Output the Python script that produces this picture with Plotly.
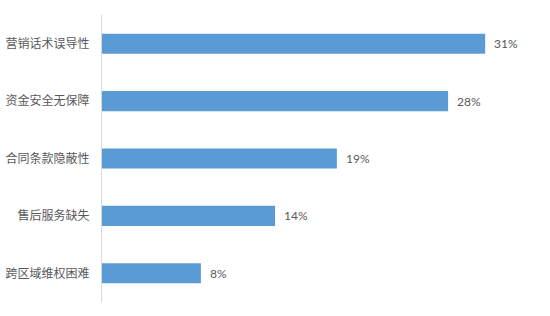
import plotly.graph_objects as go

categories = ["营销话术误导性", "资金安全无保障", "合同条款隐蔽性", "售后服务缺失", "跨区域维权困难"]
values = [31, 28, 19, 14, 8]
labels = [f"{v}%" for v in values]

fig = go.Figure()
fig.add_trace(go.Bar(
    y=categories, x=values, orientation="h",
    marker=dict(color="#5B9BD5", line=dict(width=0)),
    hoverinfo="skip",
))
for c, v, t in zip(categories, values, labels):
    fig.add_annotation(x=v, y=c, text=t, xanchor="left", yanchor="middle",
                       xshift=7, showarrow=False,
                       font=dict(size=12, color="#595959", family="Lato, Noto Sans CJK SC"))

fig.update_layout(
    width=550, height=316,
    margin=dict(l=102, r=3, t=15, b=14),
    paper_bgcolor="white", plot_bgcolor="white",
    bargap=0.65,
    showlegend=False,
    font=dict(family="Noto Sans CJK SC", size=12, color="#595959"),
)
fig.update_xaxes(range=[0, 36], visible=False, fixedrange=True)
fig.update_yaxes(autorange="reversed", showline=True, linecolor="#d9d9d9", linewidth=1,
                 ticks="", showgrid=False, ticklabelstandoff=9,
                 tickfont=dict(size=12, color="#595959"))
fig.write_html("out.html")
